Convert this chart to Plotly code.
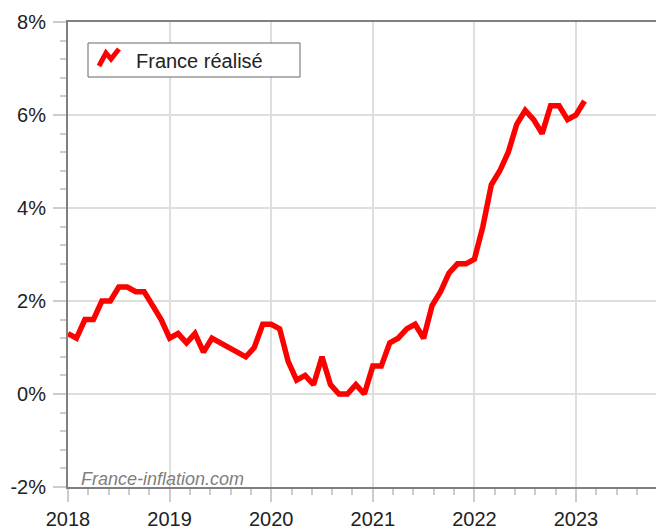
import plotly.graph_objects as go

# Monthly French inflation (year over year, %), Jan 2018 - Feb 2023
months = [f"{y}-{m:02d}" for y in range(2018, 2024) for m in range(1, 13)][:62]
inflation = [
    1.3, 1.2, 1.6, 1.6, 2.0, 2.0, 2.3, 2.3, 2.2, 2.2, 1.9, 1.6,   # 2018
    1.2, 1.3, 1.1, 1.3, 0.9, 1.2, 1.1, 1.0, 0.9, 0.8, 1.0, 1.5,   # 2019
    1.5, 1.4, 0.7, 0.3, 0.4, 0.2, 0.8, 0.2, 0.0, 0.0, 0.2, 0.0,   # 2020
    0.6, 0.6, 1.1, 1.2, 1.4, 1.5, 1.2, 1.9, 2.2, 2.6, 2.8, 2.8,   # 2021
    2.9, 3.6, 4.5, 4.8, 5.2, 5.8, 6.1, 5.9, 5.6, 6.2, 6.2, 5.9,   # 2022
    6.0, 6.3,                                                     # 2023
]
year_ticks = [2018, 2019, 2020, 2021, 2022, 2023]
pct_ticks = [-2, 0, 2, 4, 6, 8]
series_name = "France réalisé"
watermark = "France-inflation.com"

x_dec = [int(m[:4]) + (int(m[5:]) - 1) / 12 for m in months]

FONT = "Liberation Sans, Arial, sans-serif"
OFF = 8                      # page body margin
W, H = 664, 528 - OFF
ML, MT, MB, MR = 68 - OFF, 22 - OFF, 41, 0
PW, PH = W - ML - MR, H - MT - MB

fig = go.Figure()
fig.add_trace(go.Scatter(
    x=x_dec, y=inflation, mode="lines", showlegend=False,
    line=dict(color="#ff0000", width=5.5), name=series_name,
))

# page-pixel -> paper helpers
def px_x(p):
    return (p - OFF - ML) / PW

def px_y(p):
    return (H - MB - (p - OFF)) / PH

# legend box, zigzag symbol and label
fig.add_shape(type="rect", xref="paper", yref="paper",
              x0=px_x(88), x1=px_x(300), y0=px_y(77), y1=px_y(43),
              line=dict(color="#666666", width=1), fillcolor="white", layer="above")
zz = [(99, 66), (106, 53), (111, 59), (119, 49)]
path = "M " + " L ".join(f"{px_x(a):.4f},{px_y(b):.4f}" for a, b in zz)
fig.add_shape(type="path", path=path, xref="paper", yref="paper",
              line=dict(color="#ff0000", width=5), layer="above")
fig.add_annotation(
    text=series_name, xref="paper", yref="paper",
    x=px_x(134), y=px_y(61), xanchor="left", yanchor="middle",
    showarrow=False, font=dict(family=FONT, size=20, color="#222222"),
)

fig.add_annotation(
    text=f"<i>{watermark}</i>", xref="paper", yref="paper",
    x=px_x(79), y=px_y(479), xanchor="left", yanchor="middle",
    showarrow=False, font=dict(family=FONT, size=18, color="#808080"),
)

fig.update_layout(
    width=W, height=H,
    margin=dict(l=ML, r=MR, t=MT, b=MB, pad=0, autoexpand=False),
    paper_bgcolor="white", plot_bgcolor="white",
    font=dict(family=FONT, size=20, color="#222222"),
    showlegend=False,
    xaxis=dict(
        range=[2018, 2018 + PW / 101.6], automargin=False,
        tickmode="array", tickvals=year_ticks, ticktext=[str(y) for y in year_ticks],
        showgrid=True, gridcolor="#dedede", gridwidth=1.5,
        showline=True, linecolor="#808080", linewidth=2, mirror=True,
        ticks="outside", ticklen=13, tickcolor="#cccccc", tickwidth=1.5,
        minor=dict(dtick=0.2, tick0=2018, ticks="outside", ticklen=6,
                   tickcolor="#cccccc", tickwidth=1.5, showgrid=False),
        zeroline=False, fixedrange=True,
    ),
    yaxis=dict(
        range=[-2, 8], automargin=False,
        tickmode="array", tickvals=pct_ticks,
        ticktext=[f"{v}%" for v in pct_ticks],
        showgrid=True, gridcolor="#dedede", gridwidth=1.5,
        showline=True, linecolor="#808080", linewidth=2,
        ticks="outside", ticklen=13, tickcolor="#cccccc", tickwidth=1.5,
        ticklabelstandoff=3,
        minor=dict(dtick=0.4, tick0=-2, ticks="outside", ticklen=6,
                   tickcolor="#cccccc", tickwidth=1.5, showgrid=False),
        zeroline=False, fixedrange=True,
    ),
)

fig.write_html("out.html")
